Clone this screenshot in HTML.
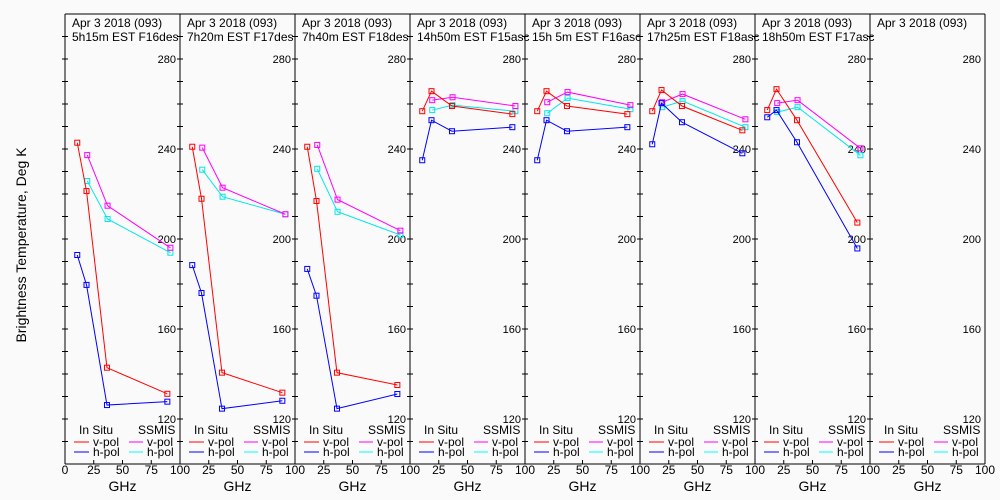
<!DOCTYPE html>
<html><head><meta charset="utf-8"><style>
body{margin:0;background:#fafafa;}
svg{display:block;font-family:"Liberation Sans",sans-serif;}
</style></head><body>
<svg id="c" width="1000" height="500" viewBox="0 0 1000 500">
<rect width="1000" height="500" fill="#fafafa"/>
<text x="26" y="245" font-size="14" text-anchor="middle" transform="rotate(-90 26 245)">Brightness Temperature, Deg K</text>
</svg>
<script>
const titles1 = ["Apr 3 2018 (093)","Apr 3 2018 (093)","Apr 3 2018 (093)","Apr 3 2018 (093)","Apr 3 2018 (093)","Apr 3 2018 (093)","Apr 3 2018 (093)","Apr 3 2018 (093)"];
const titles2 = ["5h15m EST F16des","7h20m EST F17des","7h40m EST F18des","14h50m EST F15asc","15h 5m EST F16asc","17h25m EST F18asc","18h50m EST F17asc",""];
const inSituFreq = [10.65,18.7,36.5,89];
const ssmisFreq = [19.35,37,91.65];
const inV = [[242.8,221.3,142.8,131.2],[241,217.9,140.6,131.7],[241,216.9,140.6,135.1],[256.8,265.7,259.1,255.5],[256.8,265.7,259.1,255.5],[256.8,266.2,259.1,248.3],[257.3,266.6,252.8,207.3],null];
const inH = [[192.9,179.6,126.2,127.7],[188.4,176,124.6,128.1],[186.7,174.8,124.6,131.1],[235,252.8,247.9,249.7],[235,252.8,247.9,249.7],[242.1,260.4,251.9,238.1],[254.1,257.3,243,195.8],null];
const ssV = [[237.3,214.8,196.1],[240.6,222.8,211],[241.8,217.5,203.7],[261.7,263,259.1],[260.8,265.3,259.5],[260.8,264.4,253.2],[260.4,261.7,240.3],null];
const ssH = [[225.8,208.9,193.9],[230.8,218.8,211],[231.2,212.1,201.8],[257.3,259.5,256.8],[255.9,262.6,257.7],[258.6,261.3,249.7],[256.4,258.6,237.2],null];
const yTicks = [120,160,200,240,280];
const xTicks = [0,25,50,75,100];

const svg = document.getElementById('c');
const NS = 'http://www.w3.org/2000/svg';
const X0 = 65, PW = 115, TOP = 14, BOT = 464;
const Y = v => TOP + (300 - v) * 2.25;
function mk(tag, attrs, parent){const e=document.createElementNS(NS,tag);for(const k in attrs)e.setAttribute(k,attrs[k]);(parent||svg).appendChild(e);return e;}
function txt(x,y,s,size,anchor,parent){const t=mk('text',{x:x,y:y,'font-size':size,'text-anchor':anchor||'start'},parent);t.textContent=s;return t;}
function series(g,px,freqs,vals,color,name){
  const X = f => px + f*PW/100;
  const pts = vals.map((v,i)=>X(freqs[i])+','+Y(v)).join(' ');
  const pl = mk('polyline',{points:pts,fill:'none',stroke:color,'stroke-width':1},g);
  
  
  vals.forEach((v,i)=>{
    const r = mk('rect',{x:X(freqs[i])-2.5,y:Y(v)-2.5,width:5,height:5,fill:'none',stroke:color,'stroke-width':1},g);
    
    
  });
}
for(let p=0;p<8;p++){
  const px = X0 + p*PW;
  const g = mk('g',{});
  
  
  mk('line',{x1:px,y1:TOP,x2:px,y2:BOT,stroke:'#000'},g);
  mk('line',{x1:px,y1:TOP,x2:px+PW,y2:TOP,stroke:'#000'},g);
  mk('line',{x1:px,y1:BOT,x2:px+PW,y2:BOT,stroke:'#000'},g);
  if(p==7) mk('line',{x1:px+PW,y1:TOP,x2:px+PW,y2:BOT,stroke:'#000'},g);
  for(let v=110; v<=290; v+=10){
    mk('line',{x1:px-3,y1:Y(v),x2:px+3,y2:Y(v),stroke:'#000'},g);
  }
  const t1 = txt(px+7,27,titles1[p],12,'start',g);
  
  
  const t2 = txt(px+7,41,titles2[p],12,'start',g);
  
  
  yTicks.forEach(v=>{
    const t = txt(px+PW-4,Y(v)+4,String(v),11,'end',g);
    
    
  });
  xTicks.forEach((f,i)=>{
    if(i==0 && p>0) return;
    mk('line',{x1:px+f*PW/100,y1:BOT,x2:px+f*PW/100,y2:BOT-4,stroke:'#000'},g);
    const t = txt(px+f*PW/100,474,String(f),12,'middle',g);
    
    
  });
  const gl = txt(px+PW/2,491,'GHz',14,'middle',g);
  
  
  const lg = mk('g',{},g);
  
  
  txt(px+14,434,'In Situ',12,'start',lg);
  txt(px+73,434,'SSMIS',12,'start',lg);
  [['v-pol','#f00','#f0f',446],['h-pol','#00f','#0ff',456]].forEach(r=>{
    mk('line',{x1:px+9,y1:r[3]-4,x2:px+24,y2:r[3]-4,stroke:r[1]},lg);
    txt(px+28,r[3],r[0],12,'start',lg);
    mk('line',{x1:px+64,y1:r[3]-4,x2:px+78,y2:r[3]-4,stroke:r[2]},lg);
    txt(px+82,r[3],r[0],12,'start',lg);
  });
  if(inV[p]){
    series(g,px,ssmisFreq,ssH[p],'#00e8e8','ssmis-h-pol');
    series(g,px,ssmisFreq,ssV[p],'#f0f','ssmis-v-pol');
    series(g,px,inSituFreq,inH[p],'#00f','insitu-h-pol');
    series(g,px,inSituFreq,inV[p],'#f00','insitu-v-pol');
  }
}
</script>
</body></html>
